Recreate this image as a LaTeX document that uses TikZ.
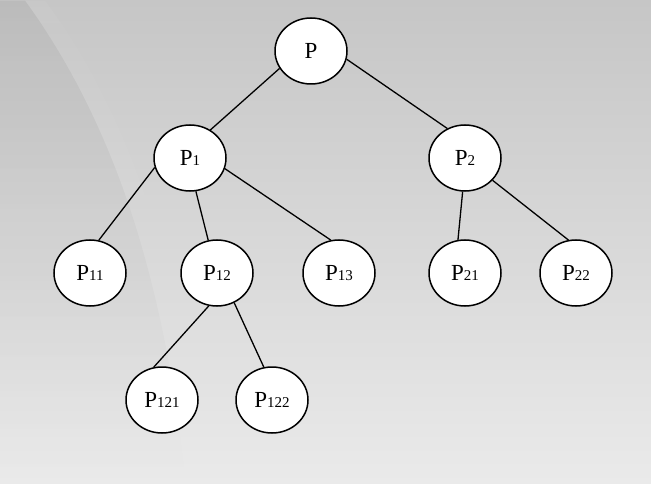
\documentclass[tikz,border=0pt]{standalone}
\usepackage{fontspec}
\setmainfont{Liberation Serif}
\usetikzlibrary{shapes.geometric,fadings}
\begin{document}
\begin{tikzpicture}[x=1pt,y=-1pt,
  treenode/.style={draw=black, line width=1.5pt, fill=white, ellipse,
    minimum width=72pt, minimum height=66pt, inner sep=0pt,
    font=\fontsize{23}{23}\selectfont},
  branch/.style={draw=black, line width=1.3pt}]
\newcommand{\lbl}[1]{P{\fontsize{15}{15}\selectfont #1}}

% backdrop: vertical grey gradient with a soft curved sweep at the left
\fill[top color={rgb,255:red,198;green,198;blue,198},
      bottom color={rgb,255:red,234;green,234;blue,234}]
  (0,0) rectangle (651,484);
\fill[black, opacity=0.05, path fading=south]
  (0,0) -- (25,0) .. controls (90,90) and (160,230) .. (186,484) -- (0,484) -- cycle;
\fill[white, opacity=0.04, path fading=south]
  (25,0) .. controls (90,90) and (160,230) .. (186,484) -- (205,484)
  .. controls (180,240) and (115,95) .. (45,0) -- cycle;
\useasboundingbox (0,0) rectangle (651,484);

% tree nodes
\node[treenode] (p)    at (311,51)  {P};
\node[treenode] (p1)   at (190,158) {\lbl{1}};
\node[treenode] (p2)   at (465,158) {\lbl{2}};
\node[treenode] (p11)  at (90,273)  {\lbl{11}};
\node[treenode] (p12)  at (217,273) {\lbl{12}};
\node[treenode] (p13)  at (339,273) {\lbl{13}};
\node[treenode] (p21)  at (465,273) {\lbl{21}};
\node[treenode] (p22)  at (576,273) {\lbl{22}};
\node[treenode] (p121) at (162,400) {\lbl{121}};
\node[treenode] (p122) at (272,400) {\lbl{122}};

% branches
\draw[branch] (p.209) -- (p1.54);
\draw[branch] (p.347) -- (p2.121);
\draw[branch] (p1.195) -- (p11.75);
\draw[branch] (p1.280) -- (p12.105);
\draw[branch] (p1.343) -- (p13.104);
\draw[branch] (p2.266) -- (p21.102);
\draw[branch] (p2.321) -- (p22.103);
\draw[branch] (p12.256) -- (p121.104);
\draw[branch] (p12.300) -- (p122.104);
\end{tikzpicture}
\end{document}
